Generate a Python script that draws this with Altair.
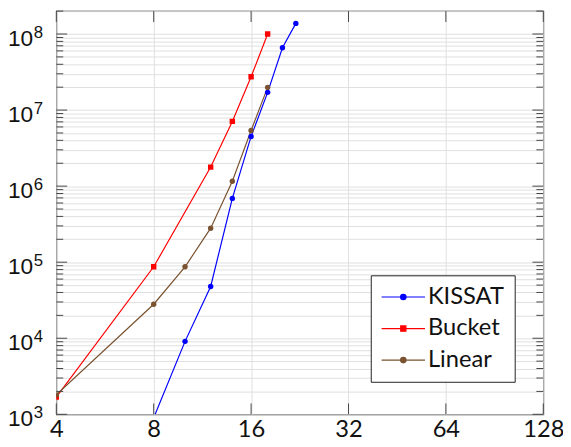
import altair as alt
import pandas as pd

# ---- data ----
series_names = ["KISSAT", "Bucket", "Linear"]
series_colors = ["#0000ff", "#ff0000", "#7a5230"]
series_markers = ["circle", "square", "circle"]

kissat_x = [8, 10, 12, 14, 16, 18, 20, 22]
kissat_y = [900, 9.1e3, 4.8e4, 6.9e5, 4.5e6, 1.71e7, 6.6e7, 1.38e8]

bucket_x = [4, 8, 12, 14, 16, 18]
bucket_y = [1.68e3, 8.7e4, 1.78e6, 7.1e6, 2.74e7, 1.0e8]

linear_x = [4, 8, 10, 12, 14, 16, 18]
linear_y = [1.8e3, 2.8e4, 8.7e4, 2.8e5, 1.16e6, 5.4e6, 1.99e7]

x_ticks = [4, 8, 16, 32, 64, 128]
y_exponents = [3, 4, 5, 6, 7, 8]
y_minor_mult = [2, 3, 4, 5, 6, 7, 8, 9]

x_domain = [4, 128]
y_domain = [1e3, 2e8]

# ---- build tables ----
rows = []
for name, xs_, ys_, mk in zip(series_names, [kissat_x, bucket_x, linear_x],
                              [kissat_y, bucket_y, linear_y], series_markers):
    for i, (a, b) in enumerate(zip(xs_, ys_)):
        rows.append({"series": name, "x": a, "y": b, "marker": mk, "order": i})
df = pd.DataFrame(rows)

y_major = [10.0 ** e for e in y_exponents]
y_minor = [m * 10.0 ** e for e in y_exponents for m in y_minor_mult
           if m * 10.0 ** e <= y_domain[1]]
y_all = sorted(y_major + y_minor)

ymaj_df = pd.DataFrame({"v": y_major, "base": ["10"] * len(y_major),
                        "exp": [str(e) for e in y_exponents]})
ymin_df = pd.DataFrame({"v": y_minor})
xt_df = pd.DataFrame({"v": x_ticks})

W, H = 494, 409
FONT = "Lato"
YFONT = "Liberation Sans"

xs = alt.Scale(type="log", base=2, domain=x_domain, nice=False, zero=False)
ys = alt.Scale(type="log", base=10, domain=y_domain, nice=False, zero=False)
cs = alt.Scale(domain=series_names, range=series_colors)

# legend symbols: a line with a marker on it (path unit = sqrt(size)/2)
circ = "M-1,0L3,0M1.25,0A0.25,0.25 0 1,1 0.75,0A0.25,0.25 0 1,1 1.25,0Z"
sq = "M-1,0L3,0M0.76,-0.24L1.24,-0.24L1.24,0.24L0.76,0.24Z"
legend_paths = [circ, sq, circ]

x_enc = alt.X("x:Q", scale=xs,
              axis=alt.Axis(values=x_ticks, grid=True, gridColor="#e0e0e0",
                            gridWidth=1, ticks=False, domain=False,
                            labelFont=FONT, labelFontSize=24, labelColor="#111",
                            labelPadding=4, title=None, labelFlush=False,
                            labelExpr="datum.value"))
y_enc = alt.Y("y:Q", scale=ys,
              axis=alt.Axis(values=y_all, grid=True, gridColor="#e0e0e0",
                            gridWidth=1, ticks=False, domain=False,
                            labels=False, title=None))

lines = alt.Chart(df).mark_line(strokeWidth=1.2, clip=True).encode(
    x=x_enc, y=y_enc,
    color=alt.Color("series:N", scale=cs, legend=None),
    order="order:Q",
)

points = alt.Chart(df).mark_point(filled=True, size=30, opacity=1, clip=True).encode(
    x=alt.X("x:Q", scale=xs), y=alt.Y("y:Q", scale=ys),
    color=alt.Color("series:N", scale=cs, legend=None),
    shape=alt.Shape("marker:N", scale=None),
)

legend_layer = alt.Chart(df).transform_filter("false").mark_point(
    filled=True, size=30, strokeWidth=1.2).encode(
    x=alt.X("x:Q", scale=xs), y=alt.Y("y:Q", scale=ys),
    color=alt.Color("series:N", scale=cs, legend=None),
    shape=alt.Shape(
        "series:N",
        scale=alt.Scale(domain=series_names, range=legend_paths),
        legend=alt.Legend(
            orient="none", legendX=319, legendY=268, title=None,
            labelFont=FONT, labelFontSize=24, labelColor="#111",
            labelExpr="datum.label + '   '",
            symbolSize=484, symbolStrokeWidth=1.2,
            symbolFillColor={"expr": "scale('color', datum.value)"},
            symbolStrokeColor={"expr": "scale('color', datum.value)"},
            strokeColor="#222", fillColor="white", padding=10,
            labelOffset=24, rowPadding=8, symbolOpacity=1)),
)

TICK = "#444"
ytick_major_l = alt.Chart(ymaj_df).mark_rule(color=TICK, strokeWidth=1).encode(
    y=alt.Y("v:Q", scale=ys), x=alt.value(0), x2=alt.value(11))
ytick_minor_l = alt.Chart(ymin_df).mark_rule(color=TICK, strokeWidth=1).encode(
    y=alt.Y("v:Q", scale=ys), x=alt.value(0), x2=alt.value(7))
ytick_major_r = alt.Chart(ymaj_df).mark_rule(color=TICK, strokeWidth=1).encode(
    y=alt.Y("v:Q", scale=ys), x=alt.value(W), x2=alt.value(W - 11))
ytick_minor_r = alt.Chart(ymin_df).mark_rule(color=TICK, strokeWidth=1).encode(
    y=alt.Y("v:Q", scale=ys), x=alt.value(W), x2=alt.value(W - 7))
xtick_b = alt.Chart(xt_df).mark_rule(color=TICK, strokeWidth=1).encode(
    x=alt.X("v:Q", scale=xs), y=alt.value(H), y2=alt.value(H - 11))
xtick_t = alt.Chart(xt_df).mark_rule(color=TICK, strokeWidth=1).encode(
    x=alt.X("v:Q", scale=xs), y=alt.value(0), y2=alt.value(11))

ylab_base = alt.Chart(ymaj_df).mark_text(
    font=YFONT, fontSize=23, align="right", baseline="alphabetic", dy=12,
    color="#111").encode(
    y=alt.Y("v:Q", scale=ys), x=alt.value(-23.5), text="base:N")
ylab_exp = alt.Chart(ymaj_df).mark_text(
    font=YFONT, fontSize=17, align="left", baseline="alphabetic", dy=4,
    color="#111").encode(
    y=alt.Y("v:Q", scale=ys), x=alt.value(-23), text="exp:N")

chart = alt.layer(
    lines, points, legend_layer,
    ytick_major_l, ytick_minor_l, ytick_major_r, ytick_minor_r,
    xtick_b, xtick_t, ylab_base, ylab_exp,
).resolve_scale(shape="independent").properties(
    width=W, height=H,
    autosize=alt.AutoSizeParams(type="none"),
    padding={"left": 49, "top": 0, "right": 20, "bottom": 30},
).configure_view(stroke="#222", strokeWidth=1.2)

chart.save("out.html", embed_options={"renderer": "svg", "actions": False})
